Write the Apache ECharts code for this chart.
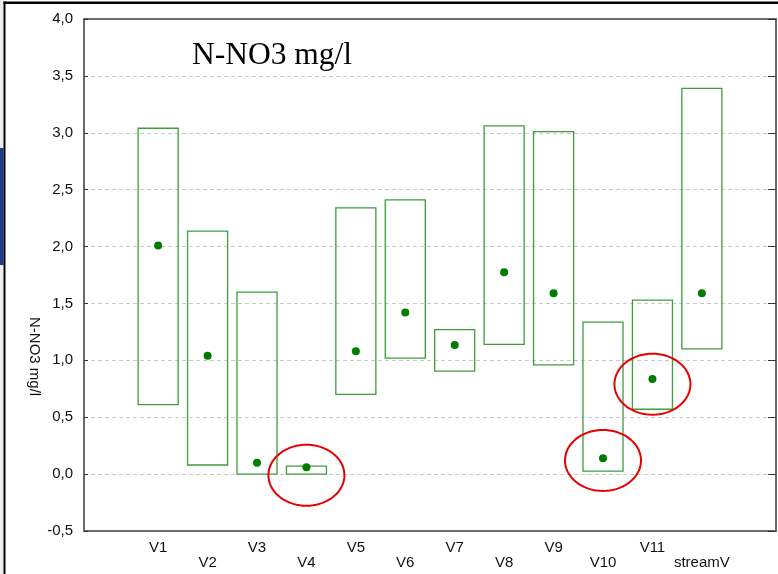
<!DOCTYPE html>
<html>
<head>
<meta charset="utf-8">
<script src="https://cdn.jsdelivr.net/npm/echarts@6/dist/echarts.min.js"></script>
<style>
  html, body { margin: 0; padding: 0; background: #fff; }
  #chart { width: 778px; height: 574px; }
</style>
</head>
<body>
<div id="chart"></div>
<script>
// Sampling sites along the x axis
const categories = ['V1', 'V2', 'V3', 'V4', 'V5', 'V6', 'V7', 'V8', 'V9', 'V10', 'V11', 'streamV'];
// Range boxes (min / max) and mean value per site, N-NO3 in mg/l
const boxMin = [0.61, 0.08, 0.00, 0.00, 0.70, 1.02, 0.905, 1.14, 0.96, 0.026, 0.57, 1.10];
const boxMax = [3.04, 2.135, 1.60, 0.07, 2.34, 2.41, 1.27, 3.06, 3.01, 1.335, 1.53, 3.39];
const means  = [2.01, 1.04, 0.10, 0.06, 1.08, 1.42, 1.135, 1.775, 1.59, 0.14, 0.835, 1.59];
// Sites circled in red, with the value at the centre of each circle
const circledSites = ['V4', 'V10', 'V11'];
const circleCenters = [-0.01, 0.12, 0.79];
// Y axis range and step
const yMin = -0.5, yMax = 4.0, yStep = 0.5;

// Axis categories: one empty slot on each side of the sites
const axisCats = [''].concat(categories, ['']);

const boxData = categories.map((c, i) => [i + 1, boxMin[i], boxMax[i]]);
const meanData = categories.map((c, i) => [i + 1, means[i]]);
const circleData = circledSites.map((c, k) => [categories.indexOf(c) + 1, circleCenters[k]]);

const chart = echarts.init(document.getElementById('chart'), null, { renderer: 'canvas' });

const axisGray = '#6a6a6a';
const font = 'Liberation Sans, Arial, sans-serif';

chart.setOption({
  animation: false,
  backgroundColor: '#ffffff',
  title: {
    text: 'N-NO3 mg/l',
    left: 187,
    top: 35,
    textStyle: { fontFamily: 'Liberation Serif, Times New Roman, serif', fontSize: 31.5, fontWeight: 'normal', color: '#000' }
  },
  grid: { left: 84, right: 2, top: 19, bottom: 43, containLabel: false },
  xAxis: [{
    type: 'category',
    data: axisCats,
    boundaryGap: true,
    axisLine: { onZero: false, lineStyle: { color: axisGray, width: 2 } },
    axisTick: { alignWithLabel: true, inside: true, length: 4, interval: 0, lineStyle: { color: '#333', width: 1 } },
    axisLabel: {
      interval: 0,
      margin: 9,
      fontFamily: font,
      fontSize: 15,
      lineHeight: 15,
      color: '#111',
      formatter: (v, idx) => (idx % 2 === 0 && v ? '\n' + v : v)
    },
    splitLine: { show: false }
  }, {
    type: 'category',
    position: 'top',
    data: axisCats,
    boundaryGap: true,
    axisLine: { onZero: false, lineStyle: { color: axisGray, width: 2 } },
    axisTick: { alignWithLabel: true, inside: true, length: 4, interval: 0, lineStyle: { color: '#333', width: 1 } },
    axisLabel: { show: false }
  }],
  yAxis: [{
    type: 'value',
    min: yMin,
    max: yMax,
    interval: yStep,
    axisLine: { show: true, onZero: false, lineStyle: { color: axisGray, width: 2 } },
    axisTick: { show: true, inside: true, length: 4, lineStyle: { color: '#333' } },
    axisLabel: {
      margin: 11,
      fontFamily: font,
      fontSize: 15,
      color: '#111',
      formatter: v => v.toFixed(1).replace('.', ',')
    },
    splitLine: { show: true, lineStyle: { color: '#c8c8c8', type: [4, 3], width: 1 } }
  }, {
    type: 'value',
    position: 'right',
    min: yMin,
    max: yMax,
    interval: yStep,
    axisLine: { show: true, onZero: false, lineStyle: { color: axisGray, width: 2 } },
    axisTick: { show: true, inside: true, length: 8, lineStyle: { color: '#333' } },
    axisLabel: { show: false },
    splitLine: { show: false }
  }],
  series: [{
    // min-max boxes
    type: 'custom',
    xAxisIndex: 0,
    yAxisIndex: 0,
    data: boxData,
    renderItem: (params, api) => {
      const x = api.value(0);
      const top = api.coord([x, api.value(2)]);
      const bot = api.coord([x, api.value(1)]);
      const w = api.size([1, 0])[0] * 0.81;
      return {
        type: 'rect',
        shape: { x: top[0] - w / 2, y: top[1], width: w, height: Math.max(bot[1] - top[1], 1) },
        style: { fill: 'none', stroke: '#3d9d3d', lineWidth: 1.3 }
      };
    },
    z: 3
  }, {
    // mean values
    type: 'scatter',
    xAxisIndex: 0,
    yAxisIndex: 0,
    data: meanData,
    symbol: 'circle',
    symbolSize: 8,
    itemStyle: { color: '#007c00', opacity: 1 },
    z: 4
  }, {
    // red circles around highlighted sites
    type: 'custom',
    xAxisIndex: 0,
    yAxisIndex: 0,
    data: circleData,
    renderItem: (params, api) => {
      const c = api.coord([api.value(0), api.value(1)]);
      const rx = 38, ry = 30.5;
      const pts = [];
      for (let k = 0; k < 72; k++) {
        const a = (k / 72) * Math.PI * 2;
        pts.push([c[0] + rx * Math.cos(a), c[1] + ry * Math.sin(a)]);
      }
      return {
        type: 'polygon',
        shape: { points: pts },
        style: { fill: 'none', stroke: '#e80000', lineWidth: 2 }
      };
    },
    z: 5
  }],
  graphic: [
    {
      type: 'text',
      left: 27, top: 317,
      rotation: -Math.PI / 2,
      originX: 0, originY: 0,
      style: { text: 'N-NO3 mg/l', font: '15px ' + font, fill: '#111' }
    },
    // slide frame edges
    { type: 'rect', left: 0, top: 0, shape: { width: 3.5, height: 574 }, style: { fill: '#ececec' } },
    { type: 'rect', left: 0, top: 148, shape: { width: 3.5, height: 117 }, style: { fill: '#1c3c8c' } },
    { type: 'rect', left: 3.5, top: 1.5, shape: { width: 775, height: 2.5 }, style: { fill: '#000' } },
    { type: 'rect', left: 3.5, top: 1.5, shape: { width: 2, height: 573 }, style: { fill: '#000' } }
  ]
});
</script>
</body>
</html>
